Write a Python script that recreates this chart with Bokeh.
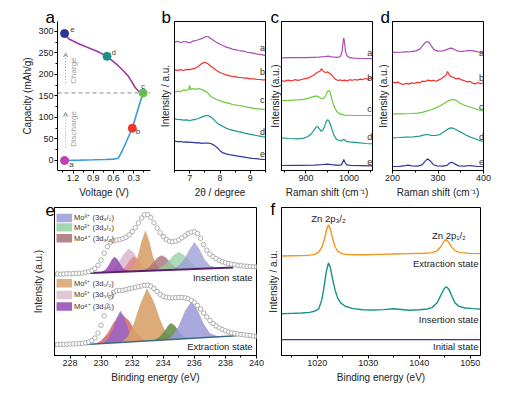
from bokeh.plotting import figure
from bokeh.models import Range1d, FixedTicker, Title, Arrow, VeeHead, Span
from bokeh.layouts import row, column
from bokeh.embed import file_html
from bokeh.resources import INLINE
from bokeh.core.properties import value

FONT = "Liberation Sans"

# ---------------- panel a : charge / discharge ----------------
a_dis_volt = [1.325, 1.10, 0.90, 0.72, 0.60, 0.53, 0.47, 0.41, 0.36, 0.32, 0.27, 0.22, 0.16]
a_dis_cap = [0, 0.8, 1.6, 2.4, 3.2, 5, 22, 43, 61, 75, 101, 127, 157]
a_chg_volt = [0.161, 0.226, 0.275, 0.325, 0.375, 0.45, 0.547, 0.695, 0.844, 0.99, 1.14, 1.265, 1.325]
a_chg_cap = [157, 161, 169, 182, 195, 208, 223, 242, 254, 263, 273, 283, 295]
a_pt_names = ["a", "b", "c", "d", "e"]
a_pt_volt = [1.325, 0.32, 0.16, 0.695, 1.325]
a_pt_cap = [0, 75, 157, 242, 295]
a_pt_colors = ["#c23cb4", "#f2352a", "#62c44a", "#1a9084", "#2b3595"]
a_lab_volt = [1.255, 0.27, 0.19, 0.63, 1.24]
a_lab_cap = [-9, 67, 172, 252, 304]
a_split_cap = 157
a_xticks = [1.2, 0.9, 0.6, 0.3]
a_yticks = [0, 50, 100, 150, 200, 250, 300]

# ---------------- panel b : XRD ----------------
b_x = [6.5, 6.6, 6.7, 6.8, 6.9, 7.0, 7.1, 7.2, 7.3, 7.4, 7.5, 7.6, 7.7, 7.8, 7.9, 8.0,
       8.1, 8.2, 8.3, 8.4, 8.5, 8.6, 8.7, 8.8, 8.9, 9.0, 9.1, 9.2, 9.3, 9.4, 9.5]
b_a = [128.3, 129.2, 127.8, 129.0, 128.6, 127.5, 129.4, 129.8, 131.0, 131.8, 133.6, 134.0, 132.0, 129.8, 128.0, 126.2,
       125.0, 123.4, 122.6, 121.4, 120.8, 120.0, 119.6, 119.2, 118.2, 117.8, 117.4, 116.6, 116.2, 115.6, 115.0]
b_b = [100.7, 100.2, 100.9, 100.0, 101.1, 100.8, 101.6, 102.4, 104.6, 106.9, 108.3, 106.8, 104.2, 102.0, 99.8, 98.0,
       96.8, 95.6, 94.9, 94.0, 93.8, 93.2, 93.0, 92.4, 92.3, 91.6, 91.6, 91.2, 91.0, 90.6, 90.7]
b_c_x = [6.5, 6.6, 6.7, 6.8, 6.9, 6.97, 7.0, 7.03, 7.1, 7.2, 7.3, 7.4, 7.5, 7.6, 7.7, 7.8, 7.9,
         8.0, 8.1, 8.2, 8.3, 8.4, 8.5, 8.6, 8.7, 8.8, 8.9, 9.0, 9.1, 9.2, 9.3, 9.4, 9.5]
b_c = [78.3, 79.4, 78.8, 80.6, 80.2, 81.0, 85.0, 80.8, 81.9, 81.2, 82.0, 80.9, 79.6, 77.4, 74.0, 72.2, 70.8,
       70.0, 68.6, 67.9, 67.2, 66.0, 65.6, 65.0, 64.6, 63.9, 63.3, 62.9, 62.2, 61.9, 61.4, 61.3, 61.0]
b_d = [51.7, 51.2, 50.8, 50.4, 50.6, 50.0, 50.6, 51.2, 52.2, 53.4, 54.6, 55.0, 53.6, 50.8, 47.6, 45.6,
       44.0, 42.4, 41.2, 40.4, 39.6, 38.8, 38.4, 37.4, 36.8, 36.2, 35.6, 35.0, 34.4, 33.8, 33.3]
b_e = [29.3, 28.9, 29.0, 28.4, 28.6, 28.1, 28.2, 27.6, 27.8, 27.2, 27.5, 27.3, 27.0, 25.4, 23.0, 19.8,
       17.6, 16.6, 15.9, 15.4, 14.8, 14.3, 13.9, 13.4, 12.8, 12.4, 12.0, 11.8, 11.4, 11.1, 11.0]
b_xticks = [7, 8, 9]

# ---------------- panel c : Raman 850-1050 ----------------
c_a_x = [843, 870, 900, 930, 945, 952, 960, 975, 980, 984, 986, 988, 990, 992, 996, 1002, 1010, 1030, 1055]
c_a = [112.6, 112.8, 112.9, 113.3, 114.0, 114.3, 113.6, 113.2, 114.0, 118.5, 126.5, 132.7, 127.5, 119.0, 114.4,
       112.8, 112.3, 112.0, 111.8]
c_b_x = [843, 850, 858, 866, 874, 882, 890, 898, 906, 912, 918, 924, 928, 932, 936, 939, 942, 946, 950, 954,
         958, 962, 966, 970, 975, 980, 985, 990, 996, 1002, 1008, 1014, 1020, 1026, 1032, 1038, 1044, 1050, 1055]
c_b = [90.0, 89.2, 90.4, 89.6, 90.8, 90.2, 91.0, 91.8, 92.6, 94.0, 95.2, 97.4, 98.6, 99.0, 101.8, 100.2, 98.8,
       98.0, 98.6, 97.4, 96.2, 94.6, 92.4, 91.0, 90.0, 90.6, 89.8, 90.4, 89.6, 90.8, 90.2, 91.0, 90.4, 91.4,
       90.8, 92.0, 91.4, 92.4, 93.0]
c_c_x = [843, 860, 880, 895, 906, 915, 922, 927, 932, 937, 942, 946, 950, 953, 956, 960, 964, 968, 973, 979,
         990, 1010, 1030, 1055]
c_c = [70.0, 70.2, 70.6, 71.2, 72.4, 73.6, 74.4, 74.3, 73.0, 71.8, 72.6, 75.0, 79.0, 80.0, 78.6, 72.0, 66.0,
       61.8, 58.4, 56.6, 55.4, 55.0, 55.0, 55.0]
c_d_x = [843, 860, 880, 895, 905, 913, 919, 924, 927, 931, 935, 939, 943, 947, 950, 953, 957, 961, 965, 970,
         976, 982, 986, 989, 992, 1000, 1020, 1040, 1055]
c_d = [32.7, 32.0, 31.6, 32.4, 34.0, 37.0, 40.6, 43.6, 44.0, 41.8, 39.4, 40.2, 43.6, 48.6, 50.7, 50.0, 46.0,
       40.6, 35.6, 31.8, 30.0, 29.6, 30.8, 31.0, 29.6, 28.6, 27.8, 27.0, 26.7]
c_e_x = [843, 880, 920, 940, 950, 960, 975, 982, 985, 988, 991, 995, 1005, 1030, 1055]
c_e = [5.0, 5.2, 5.4, 6.0, 6.3, 5.8, 5.2, 5.6, 7.6, 11.0, 8.0, 5.6, 5.0, 4.8, 4.6]
c_xticks = [900, 1000]

# ---------------- panel d : Raman 200-400 ----------------
d_a_x = [200, 220, 240, 252, 260, 266, 271, 276, 281, 286, 292, 300, 310, 318, 325, 330, 336, 344, 355, 365,
         375, 385, 393, 400]
d_a = [118.2, 118.4, 118.8, 119.6, 121.4, 124.6, 127.6, 129.0, 127.8, 124.0, 120.6, 119.4, 119.6, 120.6,
       122.2, 122.4, 121.0, 119.4, 119.2, 120.0, 119.8, 118.8, 118.0, 117.7]
d_b_x = [200, 206, 212, 218, 224, 230, 236, 242, 248, 254, 260, 266, 272, 278, 284, 290, 296, 302, 308, 313,
         318, 321, 324, 328, 334, 340, 346, 352, 358, 364, 370, 376, 382, 388, 394, 400]
d_b = [88.3, 87.6, 88.4, 86.8, 86.0, 87.2, 86.4, 87.6, 87.0, 88.2, 87.8, 89.4, 89.0, 90.4, 89.6, 90.2, 89.2,
       90.6, 92.0, 93.8, 95.6, 99.0, 96.2, 94.0, 93.2, 91.6, 92.2, 90.6, 89.8, 88.6, 89.2, 87.4, 86.6, 88.0,
       86.8, 88.0]
d_c_x = [200, 220, 240, 255, 265, 275, 285, 295, 305, 315, 322, 328, 334, 340, 347, 355, 365, 375, 385, 393, 400]
d_c = [56.7, 56.6, 57.0, 57.4, 58.2, 59.4, 60.8, 62.6, 64.8, 67.4, 69.4, 70.6, 71.0, 70.2, 67.8, 65.8, 64.2,
       62.8, 61.2, 60.0, 59.3]
d_d_x = [200, 215, 230, 245, 260, 270, 277, 285, 295, 305, 315, 322, 328, 334, 342, 350, 360, 370, 380, 390, 400]
d_d = [32.7, 33.0, 33.4, 33.6, 34.4, 35.6, 36.0, 35.2, 35.0, 36.2, 39.2, 41.6, 42.6, 42.2, 40.2, 38.4, 35.8,
       33.6, 32.0, 30.2, 29.0]
d_e_x = [200, 215, 228, 235, 242, 255, 265, 271, 277, 283, 290, 298, 310, 320, 326, 331, 337, 345, 358, 370,
         380, 390, 400]
d_e = [4.0, 4.2, 4.8, 5.3, 4.6, 4.4, 5.6, 8.8, 11.7, 9.6, 5.8, 4.6, 4.4, 5.2, 7.6, 8.3, 6.6, 4.6, 4.4, 5.0,
       4.4, 4.0, 4.0]
d_xticks = [200, 300, 400]

# ---------------- panel e : Mo 3d XPS ----------------
e_x = [227.0, 227.2, 227.4, 227.6, 227.8, 228.0, 228.2, 228.4, 228.6, 228.8, 229.0, 229.2, 229.4, 229.6,
       229.8, 230.0, 230.2, 230.4, 230.6, 230.8, 231.0, 231.2, 231.4, 231.6, 231.8, 232.0, 232.2, 232.4,
       232.6, 232.8, 233.0, 233.2, 233.4, 233.6, 233.8, 234.0, 234.2, 234.4, 234.6, 234.8, 235.0, 235.2,
       235.4, 235.6, 235.8, 236.0, 236.2, 236.4, 236.6, 236.8, 237.0, 237.2, 237.4, 237.6, 237.8, 238.0,
       238.2, 238.4, 238.6, 238.8, 239.0, 239.2, 239.4, 239.6, 239.8, 240.0]
e_ins = [82.0, 82.2, 81.8, 82.1, 82.4, 82.2, 82.5, 82.6, 82.8, 83.0, 83.6, 84.4, 85.6, 87.6, 91.0, 96.0,
         103.0, 109.6, 114.0, 115.6, 116.2, 116.8, 117.6, 119.0, 121.4, 124.6, 128.6, 133.4, 138.4, 141.6,
         141.8, 138.8, 133.6, 128.4, 123.6, 119.6, 116.8, 115.0, 114.4, 115.0, 116.4, 118.4, 120.6, 122.8,
         124.2, 124.6, 122.8, 118.0, 111.6, 106.0, 102.0, 99.6, 97.6, 95.8, 94.4, 93.4, 92.6, 92.0, 91.4,
         90.8, 90.4, 90.0, 89.8, 89.6, 89.4, 89.2]
e_ext = [10.8, 11.0, 11.2, 11.1, 11.4, 11.6, 11.7, 11.8, 12.0, 12.3, 12.8, 13.6, 15.0, 17.6, 22.6, 30.4,
         40.0, 50.0, 58.6, 63.6, 65.2, 65.4, 65.6, 66.4, 67.2, 67.8, 68.6, 69.4, 70.0, 70.6, 70.8, 69.8,
         67.4, 64.4, 61.6, 59.6, 58.6, 58.2, 58.0, 58.2, 58.4, 58.4, 58.0, 57.2, 55.6, 53.4, 50.4, 46.8,
         42.8, 38.8, 35.2, 32.2, 29.8, 27.8, 26.2, 24.8, 23.6, 22.8, 22.2, 21.6, 21.2, 20.8, 20.4, 20.0,
         19.6, 19.4]
# insertion-state fitted components (x, top)
ei_mo5_52_x = [230.4, 230.8, 231.1, 231.4, 231.78, 232.1, 232.4, 232.8, 233.2]
ei_mo5_52 = [84.0, 87.0, 93.0, 101.0, 107.7, 103.5, 96.0, 88.5, 85.8]
ei_red_x = [231.2, 231.5, 231.8, 232.1, 232.4, 232.7, 233.0]
ei_red = [84.5, 88.0, 95.0, 100.0, 96.0, 89.0, 85.6]
ei_mo4_52_x = [230.0, 230.3, 230.5, 230.7, 230.87, 231.05, 231.25, 231.45, 231.8]
ei_mo4_52 = [84.0, 86.5, 91.0, 97.0, 99.3, 97.0, 91.5, 87.0, 85.0]
ei_mo6_52_x = [231.8, 232.1, 232.35, 232.6, 232.85, 233.1, 233.35, 233.6, 233.95]
ei_mo6_52 = [85.0, 89.0, 99.0, 115.0, 126.0, 115.0, 99.0, 90.0, 86.2]
ei_mo4_32_x = [232.8, 233.1, 233.4, 233.65, 233.9, 234.15, 234.45, 234.75, 235.1]
ei_mo4_32 = [85.8, 89.0, 94.5, 99.0, 101.0, 99.0, 94.0, 89.0, 86.8]
ei_mo5_32_x = [233.5, 233.9, 234.3, 234.65, 235.0, 235.35, 235.75, 236.15, 236.6]
ei_mo5_32 = [86.3, 89.0, 94.5, 101.0, 104.3, 101.0, 94.5, 89.0, 87.8]
ei_mo6_32_x = [234.6, 235.0, 235.35, 235.7, 236.0, 236.3, 236.65, 237.0, 237.5]
ei_mo6_32 = [87.3, 90.5, 97.0, 107.0, 114.3, 108.0, 97.0, 90.5, 88.0]
ei_base_x = [229.3, 238.5]
ei_base = [83.0, 88.7]
# extraction-state fitted components
ee_red_x = [229.6, 230.0, 230.4, 230.8, 231.3, 231.8, 232.2, 232.6, 233.0]
ee_red = [11.6, 15.0, 22.0, 33.0, 42.0, 35.0, 25.0, 17.5, 14.8]
ee_mo4_52_x = [230.1, 230.45, 230.75, 231.0, 231.24, 231.5, 231.75, 232.0, 232.35]
ee_mo4_52 = [12.0, 17.0, 27.0, 38.0, 45.0, 38.0, 26.0, 17.0, 14.2]
ee_mo6_52_x = [231.3, 231.7, 232.1, 232.5, 232.95, 233.4, 233.8, 234.2, 234.8]
ee_mo6_52 = [13.2, 19.0, 32.0, 51.0, 67.7, 54.0, 36.0, 22.0, 16.0]
ee_mo5_32_x = [233.4, 233.75, 234.05, 234.3, 234.5, 234.75, 235.0, 235.3, 235.7]
ee_mo5_32 = [15.4, 18.5, 24.0, 30.0, 32.7, 30.0, 24.5, 19.0, 17.2]
ee_mo6_32_x = [234.2, 234.6, 235.0, 235.4, 235.8, 236.2, 236.6, 237.0, 237.6]
ee_mo6_32 = [16.0, 20.0, 30.0, 45.0, 54.3, 46.0, 32.0, 22.5, 19.0]
ee_base_x = [229.0, 238.7]
ee_base = [11.0, 20.0]
e_leg_top = ["Mo\u2076\u207a (3d\u2083/\u2082)", "Mo\u2075\u207a (3d\u2083/\u2082)", "Mo\u2074\u207a (3d\u2083/\u2082)"]
e_leg_bot = ["Mo\u2076\u207a (3d\u2085/\u2082)", "Mo\u2075\u207a (3d\u2085/\u2082)", "Mo\u2074\u207a (3d\u2085/\u2082)"]
e_xticks = [228, 230, 232, 234, 236, 238, 240]

# ---------------- panel f : Zn 2p XPS ----------------
f_ext_x = [1013, 1015, 1017, 1018.5, 1019.5, 1020.3, 1020.9, 1021.4, 1021.8, 1022.2, 1022.6, 1023.0, 1023.5,
           1024.0, 1024.8, 1026, 1029, 1032, 1035, 1038, 1041, 1042.5, 1043.5, 1044.3, 1044.8, 1045.2,
           1045.7, 1046.3, 1047.0, 1048, 1050, 1052]
f_ext = [99.2, 99.4, 99.6, 100.0, 100.8, 103.0, 108.0, 116.0, 125.0, 130.7, 126.0, 117.0, 108.5, 104.0, 101.6,
         100.6, 100.4, 100.8, 101.2, 101.6, 102.0, 102.6, 104.4, 109.0, 113.5, 115.7, 113.6, 108.6, 104.6,
         102.6, 101.8, 101.6]
f_ins_x = [1013, 1015, 1017, 1018.5, 1019.5, 1020.3, 1020.9, 1021.4, 1021.8, 1022.2, 1022.6, 1023.0, 1023.5,
           1024.0, 1024.6, 1025.5, 1027, 1029, 1031, 1033, 1035, 1036, 1038, 1040, 1041.5, 1042.5, 1043.5,
           1044.3, 1044.9, 1045.3, 1045.8, 1046.4, 1047.0, 1047.8, 1049, 1050.5, 1052]
f_ins = [41.0, 41.4, 41.8, 42.4, 43.6, 46.0, 55.0, 70.0, 84.0, 92.3, 87.0, 76.0, 65.0, 57.0, 52.0, 48.6, 46.2,
         45.0, 44.8, 45.2, 46.0, 45.6, 44.6, 45.0, 45.8, 47.2, 52.0, 60.5, 66.5, 68.3, 65.8, 58.6, 52.0, 48.4,
         46.8, 46.2, 45.8]
f_ini_x = [1013, 1052]
f_ini = [15.0, 15.0]
f_xticks = [1020, 1030, 1040, 1050]

PURPLE, RED, GREEN, TEAL, NAVY = "#aa4cb2", "#f5302a", "#6cc93f", "#1e9a8c", "#33349c"
TXT = "#222222"


def mkfig(w, h, left, right, top, bottom, xr, yr, outline=True):
    p = figure(width=w, height=h, x_range=xr, y_range=yr, title=None,
               output_backend="svg", toolbar_location=None,
               min_border_left=left, min_border_right=right,
               min_border_top=top, min_border_bottom=bottom)
    p.grid.visible = False
    p.outline_line_color = "black" if outline else None
    p.outline_line_width = 1
    p.background_fill_color = "white"
    p.border_fill_color = "white"
    return p


def style_axis(ax, label, ticks, minor, standoff, tick_out=3):
    ax.axis_label = label
    ax.axis_label_text_font = FONT
    ax.axis_label_text_font_size = "10px"
    ax.axis_label_text_font_style = "normal"
    ax.axis_label_text_color = TXT
    ax.axis_label_standoff = standoff
    ax.major_label_text_font = FONT
    ax.major_label_text_font_size = "9px"
    ax.major_label_text_color = TXT
    ax.major_label_standoff = 1
    ax.axis_line_color = "black"
    ax.major_tick_in = 0
    ax.minor_tick_in = 0
    ax.major_tick_out = tick_out
    ax.minor_tick_out = 2 if tick_out else 0
    ax.major_tick_line_color = "black"
    ax.minor_tick_line_color = "black"
    ax.ticker = FixedTicker(ticks=ticks, minor_ticks=minor)


def letter(p, s, dx, standoff):
    p.add_layout(Title(text=s, align="left", offset=dx, standoff=standoff,
                       text_font=FONT, text_font_size="17px", text_font_style="normal",
                       text_color="black", vertical_align="bottom"), "above")


def txt(p, xs, ys, labels, size="9px", align="left", color="#333333", angle=0.0):
    p.text(x=xs, y=ys, text=labels, text_font=value(FONT), text_font_size=size,
           text_align=align, text_baseline="middle", text_color=color, angle=angle)


# ---- a
pa = mkfig(156, 200, 57, 6, 21, 30, Range1d(1.43, 0.05), Range1d(-23.3, 323), outline=False)
style_axis(pa.xaxis[0], "Voltage (V)", a_xticks, [1.35, 1.05, 0.75, 0.45, 0.15], 3)
style_axis(pa.yaxis[0], "Capacity (mAh/g)", a_yticks, [25, 75, 125, 175, 225, 275], 2)
pa.add_layout(Span(location=a_split_cap, dimension="width", line_color="#8a8a8a",
                   line_dash="4 3", line_width=1))
pa.line(a_dis_volt, a_dis_cap, line_color="#3d9ad8", line_width=1.6)
pa.line(a_chg_volt, a_chg_cap, line_color="#9c3aa0", line_width=1.6)
pa.scatter(a_pt_volt, a_pt_cap, size=8, fill_color=a_pt_colors, line_color=a_pt_colors)
txt(pa, a_lab_volt, a_lab_cap, a_pt_names, size="8px", color="#444444")
GR = "#9a9a9a"
pa.add_layout(Arrow(end=VeeHead(size=4, line_color=GR, line_width=1, fill_color=None),
                    x_start=1.31, y_start=180, x_end=1.31, y_end=250,
                    line_color=GR, line_dash="1 2", line_width=1))
pa.add_layout(Arrow(end=VeeHead(size=4, line_color=GR, line_width=1, fill_color=None),
                    x_start=1.31, y_start=30, x_end=1.31, y_end=112,
                    line_color=GR, line_dash="1 2", line_width=1))
txt(pa, [1.195, 1.19], [209, 73], ["Charge", "Discharge"], size="8px", align="center",
    color=GR, angle=1.5708)
letter(pa, "a", -12, -11)

# ---- b
pb = mkfig(110, 200, 17, 1, 21, 30, Range1d(6.5, 9.5), Range1d(0, 149))
style_axis(pb.xaxis[0], "2\u03b8 / degree", b_xticks, [6.5, 7.5, 8.5, 9.5], 3)
style_axis(pb.yaxis[0], "Intensity / a.u.", [], [], 4, tick_out=0)
for xs, ys, col in [(b_x, b_a, PURPLE), (b_x, b_b, RED), (b_c_x, b_c, GREEN), (b_x, b_d, TEAL), (b_x, b_e, NAVY)]:
    pb.line(xs, ys, line_color=col, line_width=1.2)
txt(pb, [9.32] * 5, [122.3, 98.3, 71.0, 38.3, 16.7], a_pt_names)
letter(pb, "b", -13, -11)

# ---- c
pc = mkfig(108, 200, 13, 2, 21, 30, Range1d(843, 1055), Range1d(0, 149))
style_axis(pc.xaxis[0], "Raman shift (cm\u207b\u00b9)", c_xticks, [850, 950, 1050], 3)
style_axis(pc.yaxis[0], "Intensity (a.u.)", [], [], 1, tick_out=0)
for xs, ys, col in [(c_a_x, c_a, PURPLE), (c_b_x, c_b, RED), (c_c_x, c_c, GREEN), (c_d_x, c_d, TEAL), (c_e_x, c_e, NAVY)]:
    pc.line(xs, ys, line_color=col, line_width=1.2)
txt(pc, [1043] * 5, [117.7, 93.0, 61.7, 33.3, 8.5], a_pt_names)
letter(pc, "c", -11, -11)

# ---- d
pd = mkfig(121, 200, 17, 12, 21, 30, Range1d(200, 400), Range1d(0, 149))
style_axis(pd.xaxis[0], "Raman shift (cm\u207b\u00b9)", d_xticks, [250, 350], 3)
style_axis(pd.yaxis[0], "Intensity (a.u.)", [], [], 4, tick_out=0)
for xs, ys, col in [(d_a_x, d_a, PURPLE), (d_b_x, d_b, RED), (d_c_x, d_c, GREEN), (d_d_x, d_d, TEAL), (d_e_x, d_e, NAVY)]:
    pd.line(xs, ys, line_color=col, line_width=1.2)
txt(pd, [390] * 5, [117.7, 92.7, 63.3, 33.3, 8.5], a_pt_names)
letter(pd, "d", -12, -10)

# ---- e
pe = mkfig(264, 185, 54, 8, 7, 29, Range1d(227, 240), Range1d(0, 149))
style_axis(pe.xaxis[0], "Binding energy (eV)", e_xticks, [229, 231, 233, 235, 237, 239], 3)
style_axis(pe.yaxis[0], "Intensity (a.u.)", [], [], 11, tick_out=0)
C_MO6_52, C_MO5_52, C_MO4_52 = "#d9a26c", "#dcbcd0", "#9448b0"
C_MO6_32, C_MO5_32, C_MO4_32 = "#9a9ad8", "#93d0a2", "#a8707a"
for xs, ys, col, al in [(ei_mo5_52_x, ei_mo5_52, C_MO5_52, 0.9), (ei_red_x, ei_red, "#e07070", 0.6),
                        (ei_mo4_52_x, ei_mo4_52, C_MO4_52, 0.85), (ei_mo6_52_x, ei_mo6_52, C_MO6_52, 0.9),
                        (ei_mo4_32_x, ei_mo4_32, C_MO4_32, 0.8), (ei_mo5_32_x, ei_mo5_32, C_MO5_32, 0.75),
                        (ei_mo6_32_x, ei_mo6_32, C_MO6_32, 0.75)]:
    pe.patch(xs, ys, fill_color=col, fill_alpha=al, line_color=None)
pe.line(ei_base_x, ei_base, line_color="#5b1f6b", line_width=2)
for xs, ys, col, al in [(ee_red_x, ee_red, "#d8706a", 0.9), (ee_mo4_52_x, ee_mo4_52, "#9b63c8", 0.85),
                        (ee_mo6_52_x, ee_mo6_52, C_MO6_52, 0.9), (ee_mo5_32_x, ee_mo5_32, "#5f8a45", 0.85),
                        (ee_mo6_32_x, ee_mo6_32, C_MO6_32, 0.85)]:
    pe.patch(xs, ys, fill_color=col, fill_alpha=al, line_color=None)
pe.line(ee_base_x, ee_base, line_color="#3a6a8a", line_width=1.5)
pe.scatter(e_x, e_ins, size=4.5, marker="circle", fill_color="white", line_color="#a6a6a6", line_width=0.9)
pe.scatter(e_x, e_ext, size=4.5, marker="circle", fill_color="white", line_color="#a6a6a6", line_width=0.9)
# legends
leg_x0 = 227.13
leg_w = 1.0
for ys, cols, labels in [([138.5, 129.0, 118.0], [C_MO6_32, C_MO5_32, C_MO4_32], e_leg_top),
                         ([72.7, 61.0, 49.3], [C_MO6_52, C_MO5_52, C_MO4_52], e_leg_bot)]:
    pe.rect(x=[leg_x0 + leg_w / 2] * 3, y=ys, width=leg_w, height=8.5, fill_color=cols,
            fill_alpha=0.85, line_color=None)
    txt(pe, [leg_x0 + leg_w + 0.12] * 3, ys, labels, size="7.5px", color="#333333")
txt(pe, [239.75, 239.75], [79.0, 9.3], ["Insertion state", "Extraction state"], size="9.5px",
    align="right", color="#222222")
letter(pe, "e", -9, -17)

# ---- f
pf = mkfig(226, 185, 15, 10, 7, 29, Range1d(1013, 1052), Range1d(-1, 148))
style_axis(pf.xaxis[0], "Binding energy (eV)", f_xticks, [1015, 1025, 1035, 1045], 3)
style_axis(pf.yaxis[0], "Intensity / a.u.", [], [], 3, tick_out=0)
pf.line(f_ext_x, f_ext, line_color="#f7941d", line_width=1.4)
pf.line(f_ins_x, f_ins, line_color="#17938a", line_width=1.4)
pf.line(f_ini_x, f_ini, line_color="#3535a8", line_width=1.4)
txt(pf, [1022.2, 1045.8], [136.7, 120.0], ["Zn 2p\u2083/\u2082", "Zn 2p\u2081/\u2082"], size="9.5px",
    align="center", color="#222222")
txt(pf, [1051.6] * 3, [91.7, 35.0, 8.3], ["Extraction state", "Insertion state", "Initial state"],
    size="9.5px", align="right", color="#222222")
letter(pf, "f", -11, -23)

layout = column(row(pa, pb, pc, pd, spacing=0), row(pe, pf, spacing=0), spacing=0)
open("out.html", "w").write(file_html(layout, INLINE))
